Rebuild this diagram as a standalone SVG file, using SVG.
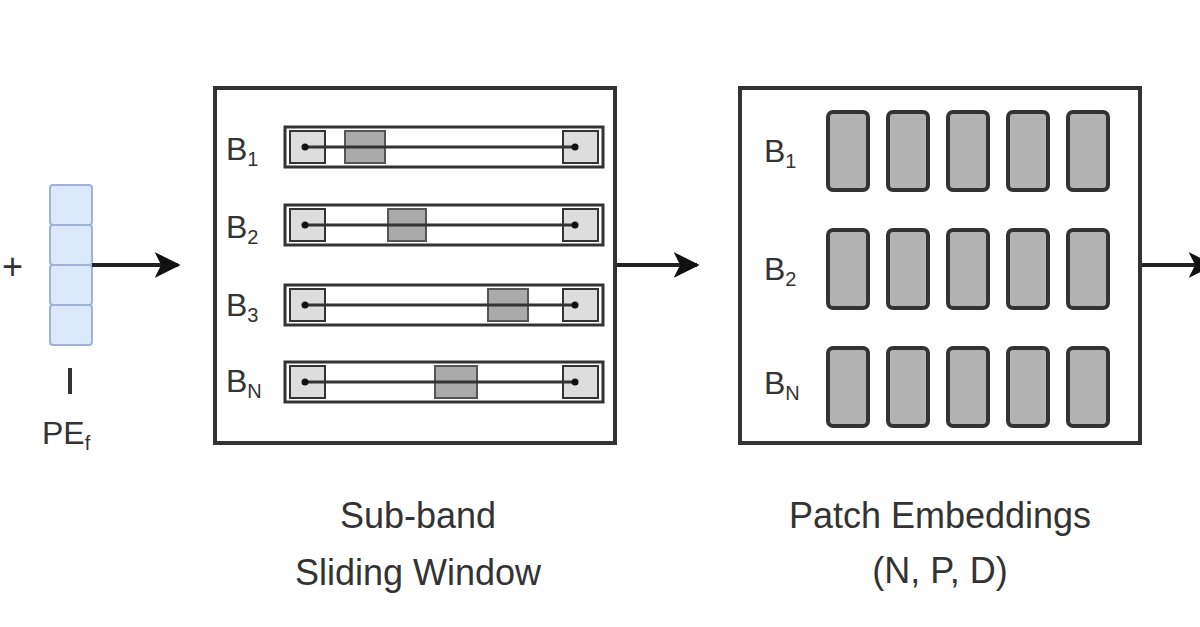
<svg xmlns="http://www.w3.org/2000/svg" width="1200" height="627" viewBox="0 0 1200 627">
<style>
.box{fill:#fff;stroke:#333;stroke-width:4}
.band{fill:#fff;stroke:#333;stroke-width:3}
.seg{fill:#ddd;stroke:#333;stroke-width:2}
.win{fill:#aaa;stroke:#555;stroke-width:2}
.patch{fill:#b3b3b3;stroke:#333;stroke-width:4}
.pe{fill:#dce8fc;stroke:#9fb2dd;stroke-width:2}
text{font-family:"Liberation Sans",Arial,sans-serif;fill:#333}
.lbl{font-size:32px}
.cap{font-size:36px;text-anchor:middle}
.sub{font-size:20px}
.conn{stroke:#222;stroke-width:4;fill:none}
</style>
<defs>
<marker id="ah" viewBox="0 0 10 10" refX="9" refY="5" markerWidth="6.5" markerHeight="6.5" orient="auto" markerUnits="strokeWidth"><path d="M0,0 L10,5 L0,10 L2.5,5 z" fill="#111"/></marker>
</defs>
<rect width="1200" height="627" fill="#fff"/>
<g id="plus"><text x="2" y="279" style="font-size:36px">+</text></g>
<g id="pe">
<rect class="pe" x="50" y="185" width="42" height="40" rx="3"/>
<rect class="pe" x="50" y="225" width="42" height="40" rx="3"/>
<rect class="pe" x="50" y="265" width="42" height="40" rx="3"/>
<rect class="pe" x="50" y="305" width="42" height="40" rx="3"/>
<line x1="70" y1="368" x2="70" y2="394" stroke="#333" stroke-width="4"/>
<text class="lbl" x="42" y="444">PE<tspan class="sub" dy="6">f</tspan></text>
</g>
<g id="sliding">
<rect class="box" x="215" y="88" width="400" height="355"/>
<g id="b1"><text class="lbl" x="226" y="160">B<tspan class="sub" dy="6">1</tspan></text>
<rect class="band" x="285" y="127" width="318" height="40"/><rect class="seg" x="290" y="131" width="35" height="32"/><rect class="win" x="345" y="131" width="40" height="32"/><rect class="seg" x="563" y="131" width="35" height="32"/>
<line x1="305" y1="147" x2="578" y2="147" stroke="#333" stroke-width="3"/><circle cx="305" cy="147" r="3.5" fill="#111"/><circle cx="575" cy="147" r="3.5" fill="#111"/></g>
<g id="b2"><text class="lbl" x="226" y="238">B<tspan class="sub" dy="6">2</tspan></text>
<rect class="band" x="285" y="205" width="318" height="40"/><rect class="seg" x="290" y="209" width="35" height="32"/><rect class="win" x="388" y="209" width="38" height="32"/><rect class="seg" x="563" y="209" width="35" height="32"/>
<line x1="305" y1="225" x2="578" y2="225" stroke="#333" stroke-width="3"/><circle cx="305" cy="225" r="3.5" fill="#111"/><circle cx="575" cy="225" r="3.5" fill="#111"/></g>
<g id="b3"><text class="lbl" x="226" y="316">B<tspan class="sub" dy="6">3</tspan></text>
<rect class="band" x="285" y="285" width="318" height="40"/><rect class="seg" x="290" y="289" width="35" height="32"/><rect class="win" x="488" y="289" width="40" height="32"/><rect class="seg" x="563" y="289" width="35" height="32"/>
<line x1="305" y1="305" x2="578" y2="305" stroke="#333" stroke-width="3"/><circle cx="305" cy="305" r="3.5" fill="#111"/><circle cx="575" cy="305" r="3.5" fill="#111"/></g>
<g id="bn"><text class="lbl" x="226" y="392">B<tspan class="sub" dy="6">N</tspan></text>
<rect class="band" x="285" y="362" width="318" height="40"/><rect class="seg" x="290" y="366" width="35" height="32"/><rect class="win" x="435" y="366" width="42" height="32"/><rect class="seg" x="563" y="366" width="35" height="32"/>
<line x1="305" y1="382" x2="578" y2="382" stroke="#333" stroke-width="3"/><circle cx="305" cy="382" r="3.5" fill="#111"/><circle cx="575" cy="382" r="3.5" fill="#111"/></g>
<text class="cap" x="418" y="528">Sub-band</text>
<text class="cap" x="418" y="585">Sliding Window</text>
</g>
<g id="patches">
<rect class="box" x="740" y="88" width="400" height="355"/>
<text class="lbl" x="764" y="162">B<tspan class="sub" dy="6">1</tspan></text>
<text class="lbl" x="764" y="280">B<tspan class="sub" dy="6">2</tspan></text>
<text class="lbl" x="764" y="394">B<tspan class="sub" dy="6">N</tspan></text>
<g id="r1"><rect class="patch" x="828" y="112" width="40" height="78" rx="5"/><rect class="patch" x="888" y="112" width="40" height="78" rx="5"/><rect class="patch" x="948" y="112" width="40" height="78" rx="5"/><rect class="patch" x="1008" y="112" width="40" height="78" rx="5"/><rect class="patch" x="1068" y="112" width="40" height="78" rx="5"/></g>
<g id="r2"><rect class="patch" x="828" y="230" width="40" height="78" rx="5"/><rect class="patch" x="888" y="230" width="40" height="78" rx="5"/><rect class="patch" x="948" y="230" width="40" height="78" rx="5"/><rect class="patch" x="1008" y="230" width="40" height="78" rx="5"/><rect class="patch" x="1068" y="230" width="40" height="78" rx="5"/></g>
<g id="r3"><rect class="patch" x="828" y="348" width="40" height="78" rx="5"/><rect class="patch" x="888" y="348" width="40" height="78" rx="5"/><rect class="patch" x="948" y="348" width="40" height="78" rx="5"/><rect class="patch" x="1008" y="348" width="40" height="78" rx="5"/><rect class="patch" x="1068" y="348" width="40" height="78" rx="5"/></g>
<text class="cap" x="940" y="528">Patch Embeddings</text>
<text class="cap" x="940" y="583">(N, P, D)</text>
</g>
<g id="connectors">
<line class="conn" x1="92" y1="265" x2="178" y2="265" marker-end="url(#ah)"/>
<line class="conn" x1="617" y1="265" x2="697" y2="265" marker-end="url(#ah)"/>
<line class="conn" x1="1142" y1="265" x2="1212" y2="265" marker-end="url(#ah)"/>
</g>
</svg>
